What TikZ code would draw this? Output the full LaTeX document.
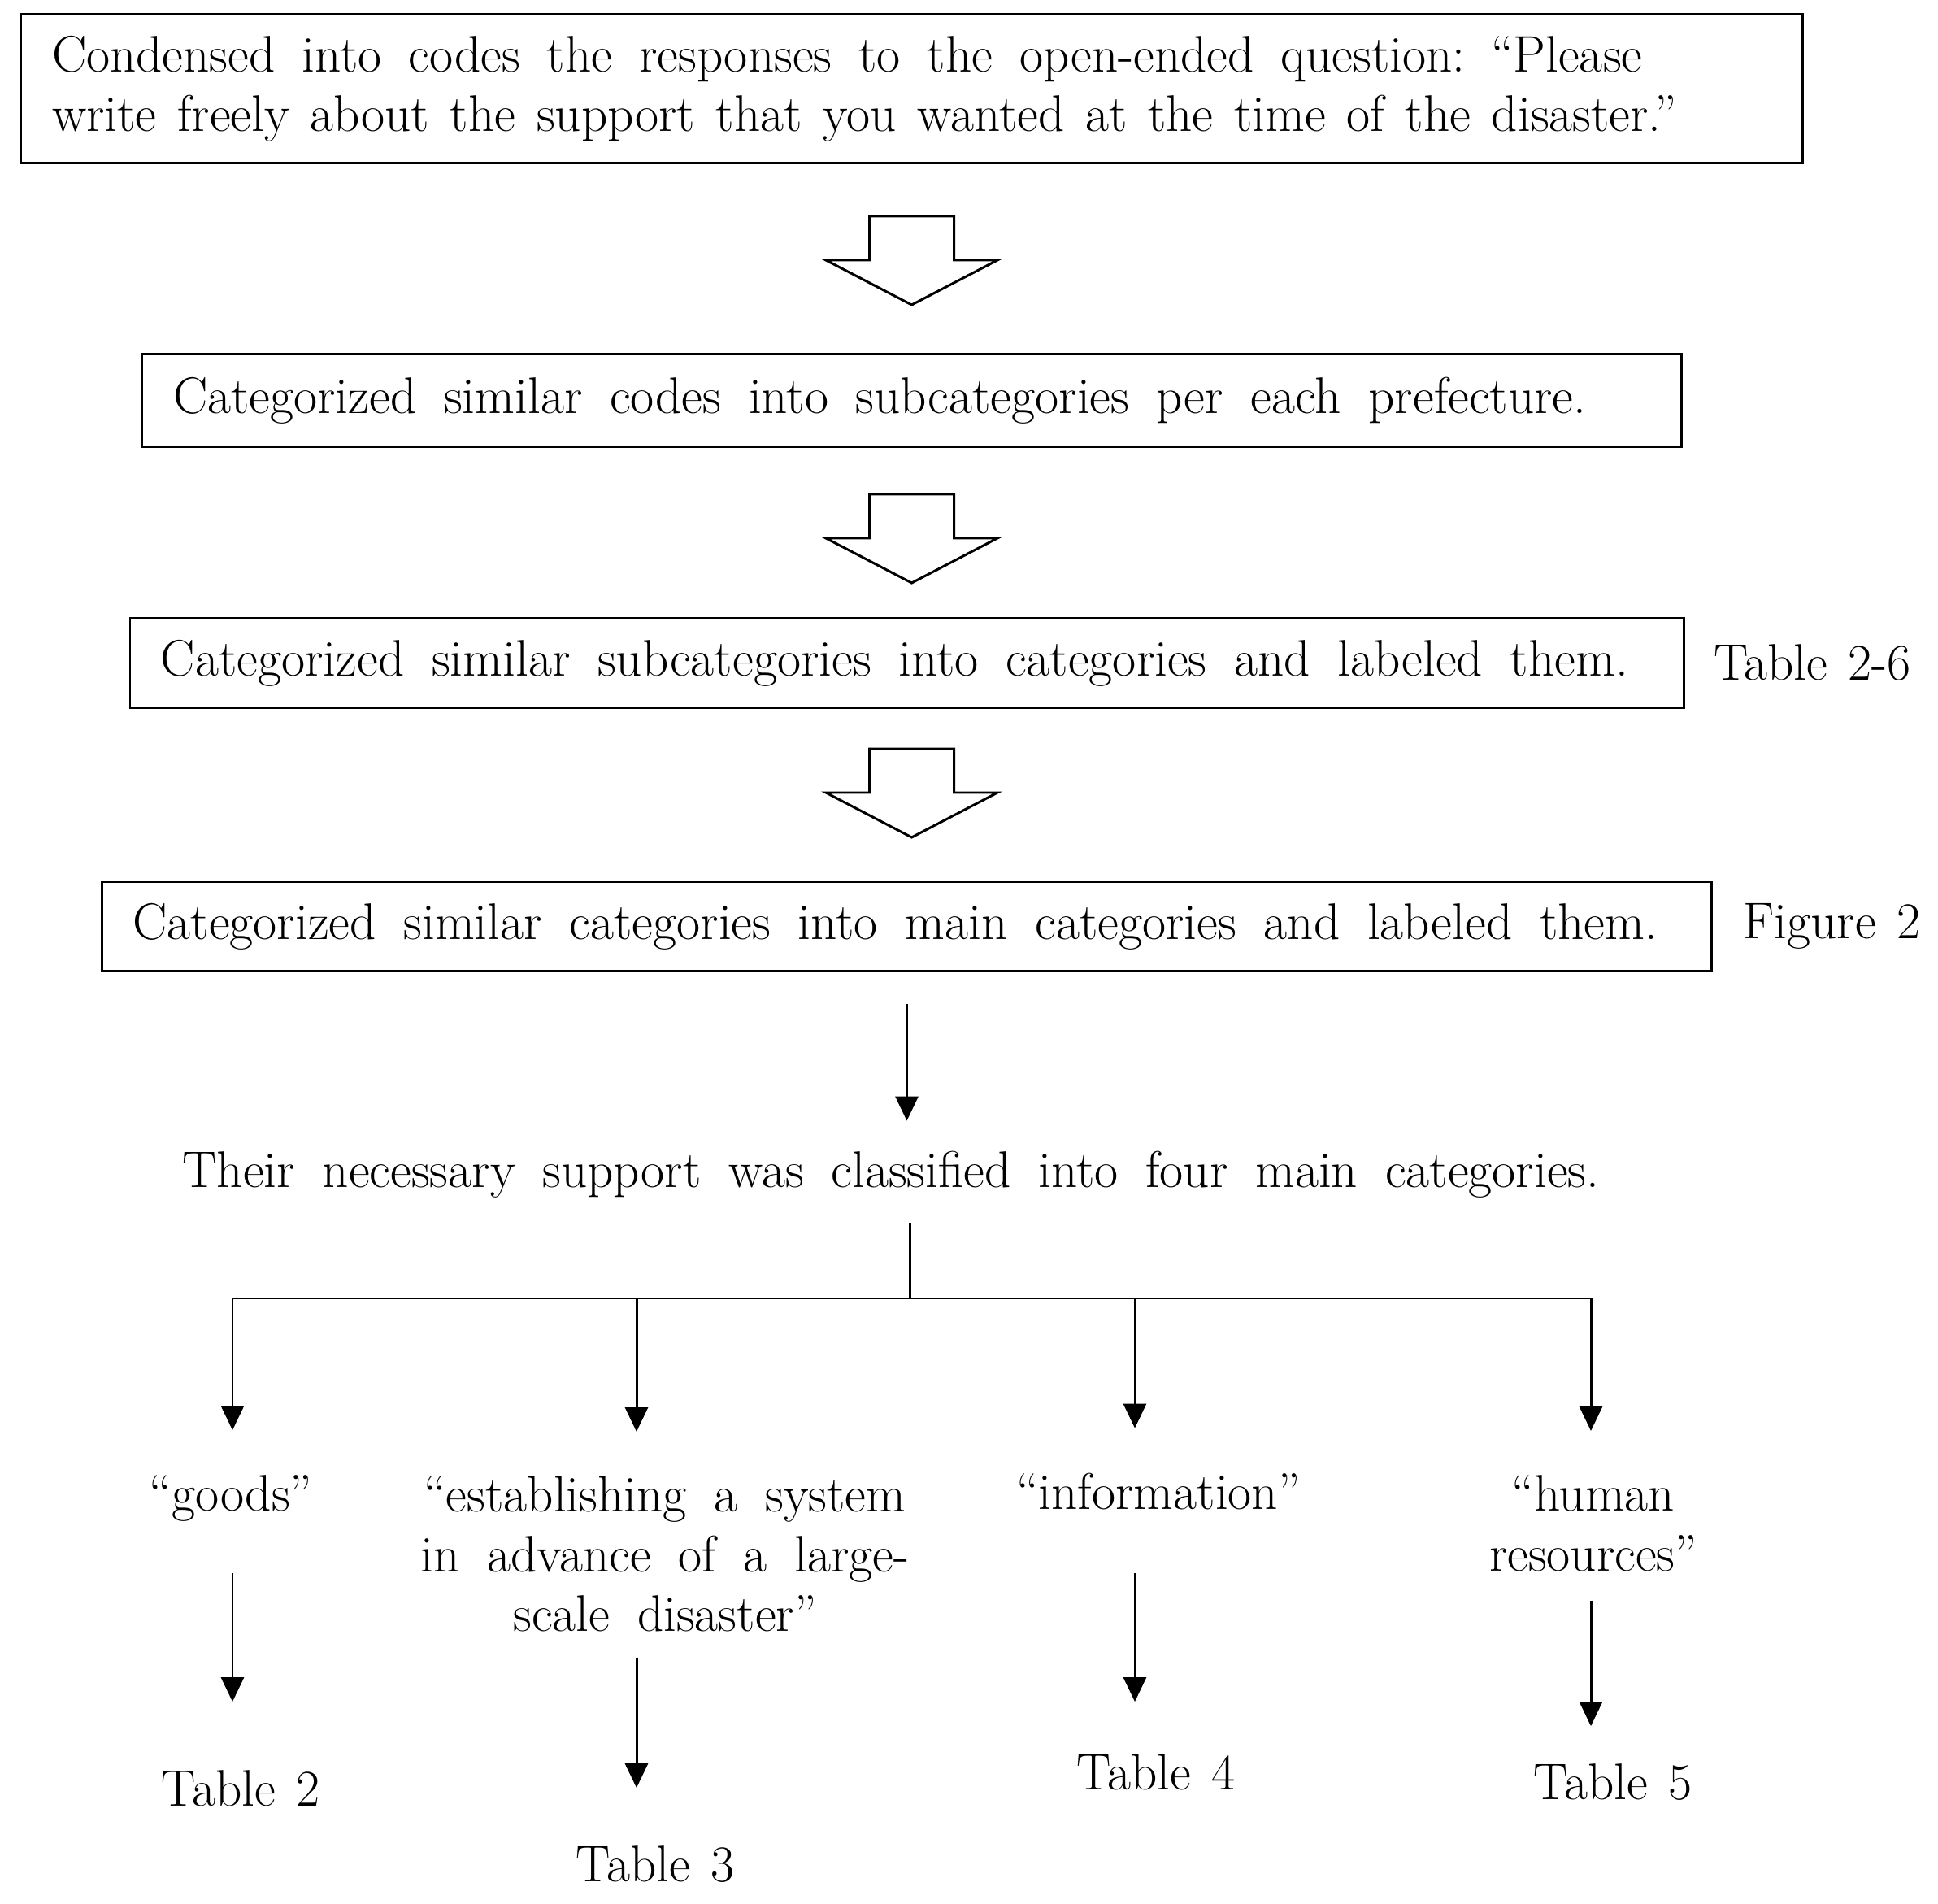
\documentclass[tikz,border=0pt]{standalone}
\usepackage{tikz}
\usetikzlibrary{arrows.meta,calc,positioning}

\begin{document}
\begin{tikzpicture}[node distance=0.6cm,every node/.style={font={\fontsize{18}{20.8}\selectfont\spaceskip=9.6pt plus 2pt\relax}},>={Triangle[length=0.3cm,width=0.28cm]},line width=0.85pt]
  \tikzset{
    stepbox/.style={draw,outer sep=0pt,inner xsep=0.38cm,inner ysep=0pt,align=left,execute at begin node={\spaceskip=9.6pt plus 2pt\relax}},
    hollow/.pic={\draw (-0.52,0) -- (-0.52,-0.54) -- (-1.055,-0.54) -- (0,-1.09) -- (1.055,-0.54) -- (0.52,-0.54) -- (0.52,0) -- cycle;},
    lab/.style={inner sep=0pt,outer sep=0pt,align=center},
    tbl/.style={lab,font={\fontsize{18}{20.8}\selectfont\spaceskip=7.2pt plus 1pt\relax}}
  }
  \useasboundingbox (0,0) rectangle (23.84,-23.42);
  \node[stepbox,text width=21.15cm,minimum height=1.83cm,execute at begin node={\spaceskip=9.4pt plus 2pt\relax}] (b1) at (11.215,-1.095) {Condensed into codes the responses to the open-ended question: ``Please\\\spaceskip=7.3pt plus 2pt\relax write freely about the support that you wanted at the time of the disaster.''};
  \coordinate[below=0.65cm of b1] (h1);
  \pic at (h1) {hollow};
  \node[stepbox,text width=18.17cm,minimum height=1.14cm,below=1.70cm of h1] (b2) {Categorized similar codes into subcategories per each prefecture.};
  \coordinate[below=0.58cm of b2] (h2);
  \pic at (h2) {hollow};
  \node[stepbox,text width=18.35cm,minimum height=1.11cm,below=1.52cm of h2,xshift=-0.06cm] (b3) {Categorized similar subcategories into categories and labeled them.};
  \coordinate[below=0.50cm of b3,xshift=0.06cm] (h3);
  \pic at (h3) {hollow};
  \node[stepbox,text width=19.04cm,minimum height=1.09cm,below=1.64cm of h3,xshift=-0.06cm] (b4) {Categorized similar categories into main categories and labeled them.};
  \node[tbl,right=0.37cm of b3] (t26) {Table 2-6};
  \node[tbl,right=0.39cm of b4] (fig2) {Figure 2};

  % four main categories
  \node[lab,anchor=base] (cls) at (10.96,-14.60) {Their necessary support was classified into four main categories.};
  \draw[->,shorten <=0.41cm,shorten >=0.37cm] (b4.south) -- (b4.south |- cls.north);
  \coordinate (hub) at (11.19,-15.97);
  \draw[shorten <=0.31cm] (hub |- cls.south) -- (hub);
  \coordinate (br1) at (2.86,-15.97);
  \coordinate (br2) at (7.83,-15.97);
  \coordinate (br3) at (13.96,-15.97);
  \coordinate (br4) at (19.57,-15.97);
  \draw (br1) -- (br4);

  \node[lab,anchor=base] (gd) at (2.84,-18.58) {``goods''};
  \node[lab,anchor=north] (est) at (8.18,-18.16) {``establishing a system\\in advance of a large-\\scale disaster''};
  \node[lab,anchor=base] (inf) at (14.25,-18.56) {``information''};
  \node[lab,anchor=north] (hum) at (19.60,-18.15) {``human\\resources''};

  \node[tbl,anchor=base] (tb2) at (2.96,-22.21) {Table 2};
  \node[tbl,anchor=base] (tb3) at (8.06,-23.14) {Table 3};
  \node[tbl,anchor=base] (tb4) at (14.22,-22.01) {Table 4};
  \node[tbl,anchor=base] (tb5) at (19.84,-22.13) {Table 5};

  \draw[->,shorten >=0.55cm] (br1) -- (br1 |- gd.north);
  \draw[->,shorten >=0.55cm] (br2) -- (br2 |- est.north);
  \draw[->,shorten >=0.55cm] (br3) -- (br3 |- inf.north);
  \draw[->,shorten >=0.55cm] (br4) -- (br4 |- hum.north);

  \draw[->,shorten <=0.64cm,shorten >=0.84cm] (br1 |- gd.south) -- (br1 |- tb2.north);
  \draw[->,shorten <=0.32cm,shorten >=0.71cm] (br2 |- est.south) -- (br2 |- tb3.north);
  \draw[->,shorten <=0.78cm,shorten >=0.64cm] (br3 |- inf.south) -- (br3 |- tb4.north);
  \draw[->,shorten <=0.36cm,shorten >=0.46cm] (br4 |- hum.south) -- (br4 |- tb5.north);
\end{tikzpicture}
\end{document}
